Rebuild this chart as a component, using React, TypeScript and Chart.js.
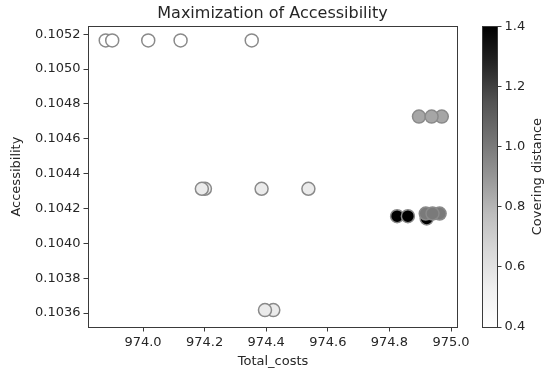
import React, { useEffect, useRef } from "react";
import { Chart, registerables } from "chart.js";
Chart.register(...registerables);

// ---- data ----
const totalCosts = [
  973.879, 973.9, 974.017, 974.122, 974.353,
  974.201, 974.191, 974.385, 974.537,
  974.423, 974.396,
  974.896, 974.97, 974.937,
  974.825, 974.86, 974.921,
  974.918, 974.963, 974.94,
];
const accessibility = [
  0.105164, 0.105164, 0.105164, 0.105164, 0.105164,
  0.104313, 0.104313, 0.104313, 0.104313,
  0.103617, 0.103617,
  0.104727, 0.104727, 0.104727,
  0.104156, 0.104156, 0.104143,
  0.104171, 0.104171, 0.104171,
];
const coveringDistance = [
  0.4, 0.4, 0.4, 0.4, 0.4,
  0.55, 0.55, 0.55, 0.55,
  0.55, 0.55,
  0.85, 0.85, 0.85,
  1.4, 1.4, 1.4,
  1.0, 1.0, 1.0,
];
const xTicks = [974.0, 974.2, 974.4, 974.6, 974.8, 975.0];
const yTicks = [0.1036, 0.1038, 0.104, 0.1042, 0.1044, 0.1046, 0.1048, 0.105, 0.1052];
const cbTicks = [0.4, 0.6, 0.8, 1.0, 1.2, 1.4];

const CB_MIN = 0.4;
const CB_MAX = 1.4;
const GREYS = [255, 240, 217, 189, 150, 115, 82, 37, 0];

function greys(t: number): string {
  const tt = Math.max(0, Math.min(1, t));
  const pos = tt * (GREYS.length - 1);
  const i = Math.min(GREYS.length - 2, Math.floor(pos));
  const f = pos - i;
  const v = Math.round(GREYS[i] + (GREYS[i + 1] - GREYS[i]) * f);
  return `rgb(${v},${v},${v})`;
}
const colorFor = (c: number) => greys((c - CB_MIN) / (CB_MAX - CB_MIN));

const TEXT = "#262626";
const LINE = "#3a3a3a";
const FONT = "'DejaVu Sans', sans-serif";

const colorbarPlugin = {
  id: "colorbarFrame",
  afterDraw(chart: any) {
    const { ctx, chartArea } = chart;
    const cb = chart.scales.cb;
    const top = chartArea.top;
    const bottom = chartArea.bottom;
    // frame around plot
    ctx.save();
    ctx.strokeStyle = LINE;
    ctx.lineWidth = 1;
    ctx.strokeRect(
      Math.round(chartArea.left) + 0.5,
      Math.round(top) + 0.5,
      Math.round(chartArea.right - chartArea.left) - 1,
      Math.round(bottom - top)
    );
    // colorbar
    const barRight = cb.left;
    const barLeft = barRight - 15;
    const grad = ctx.createLinearGradient(0, bottom, 0, top);
    GREYS.forEach((_, i) => grad.addColorStop(i / (GREYS.length - 1), greys(i / (GREYS.length - 1))));
    ctx.fillStyle = grad;
    ctx.fillRect(barLeft, top, barRight - barLeft, bottom - top);
    ctx.strokeRect(Math.round(barLeft) + 0.5, Math.round(top) + 0.5, 15, Math.round(bottom - top));
    // colorbar label (reads bottom-to-top)
    ctx.translate(cb.right - 4, (top + bottom) / 2);
    ctx.rotate(-Math.PI / 2);
    ctx.fillStyle = TEXT;
    ctx.font = `13px ${FONT}`;
    ctx.textAlign = "center";
    ctx.textBaseline = "alphabetic";
    ctx.fillText("Covering distance", 0, 0);
    ctx.restore();
  },
};

export default function App() {
  const ref = useRef<HTMLCanvasElement | null>(null);
  useEffect(() => {
    if (!ref.current) return;
    Chart.defaults.font.family = FONT;
    Chart.defaults.color = TEXT;
    const points = totalCosts.map((x, i) => ({ x, y: accessibility[i] }));
    const chart = new Chart(ref.current, {
      type: "scatter",
      data: {
        datasets: [
          {
            data: points,
            pointRadius: 6.5,
            pointHoverRadius: 6.5,
            pointBorderWidth: 1.5,
            pointBorderColor: "#8a8a8a",
            pointBackgroundColor: coveringDistance.map(colorFor),
          },
        ],
      },
      options: {
        animation: false,
        responsive: false,
        devicePixelRatio: 1,
        events: [],
        layout: { padding: 0 },
        plugins: {
          legend: { display: false },
          tooltip: { enabled: false },
          title: {
            display: true,
            text: "Maximization of Accessibility",
            font: { size: 16, weight: "normal" },
            color: TEXT,
            padding: { top: 4, bottom: 3 },
          },
        },
        scales: {
          x: {
            type: "linear",
            min: 973.8214,
            max: 975.0227,
            afterBuildTicks: (s: any) => {
              s.ticks = xTicks.map((v) => ({ value: v }));
            },
            afterFit: (s: any) => {
              s.height = 48;
            },
            ticks: {
              callback: (v: any) => Number(v).toFixed(1),
              font: { size: 13 },
              color: TEXT,
              padding: 3,
              maxRotation: 0,
              autoSkip: false,
            },
            grid: { drawOnChartArea: false, drawTicks: true, tickLength: 4.5, color: LINE },
            border: { display: false },
            title: { display: true, text: "Total_costs", font: { size: 13 }, color: TEXT, padding: { top: 0, bottom: 6 } },
          },
          y: {
            type: "linear",
            min: 0.10352,
            max: 0.1052457,
            afterBuildTicks: (s: any) => {
              s.ticks = yTicks.map((v) => ({ value: v }));
            },
            afterFit: (s: any) => {
              s.width = 88;
            },
            ticks: {
              callback: (v: any) => Number(v).toFixed(4),
              font: { size: 13 },
              color: TEXT,
              padding: 3,
              autoSkip: false,
            },
            grid: { drawOnChartArea: false, drawTicks: true, tickLength: 4.5, color: LINE },
            border: { display: false },
            title: { display: true, text: "Accessibility", font: { size: 13 }, color: TEXT, padding: { top: 9, bottom: 0 } },
          },
          gap: {
            type: "linear",
            position: "right",
            weight: 0,
            min: 0,
            max: 1,
            display: true,
            ticks: { display: false },
            grid: { display: false },
            border: { display: false },
            afterFit: (s: any) => {
              s.width = 39;
            },
          },
          cb: {
            type: "linear",
            position: "right",
            weight: 1,
            min: CB_MIN,
            max: CB_MAX,
            afterBuildTicks: (s: any) => {
              s.ticks = cbTicks.map((v) => ({ value: v }));
            },
            afterFit: (s: any) => {
              s.width = 48;
            },
            ticks: {
              callback: (v: any) => Number(v).toFixed(1),
              font: { size: 13 },
              color: TEXT,
              padding: 3,
              autoSkip: false,
            },
            grid: { drawOnChartArea: false, drawTicks: true, tickLength: 4.5, color: LINE },
            border: { display: false },
          },
        },
      } as any,
      plugins: [colorbarPlugin],
    });
    return () => chart.destroy();
  }, []);
  return (
    <div style={{ position: "fixed", left: 0, top: 0, width: 545, height: 375, background: "#fff" }}>
      <canvas ref={ref} width={545} height={375} style={{ width: 545, height: 375, display: "block" }} />
    </div>
  );
}
